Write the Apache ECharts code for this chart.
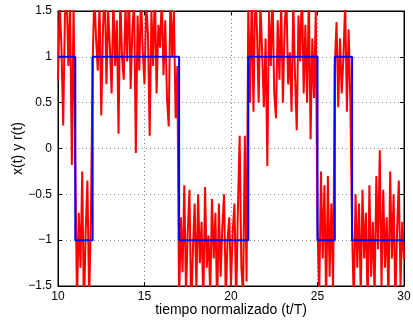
<!DOCTYPE html>
<html>
<head>
<meta charset="utf-8">
<script src="https://cdn.jsdelivr.net/npm/echarts@6/dist/echarts.min.js"></script>
<style>
html, body { margin: 0; padding: 0; background: #fff; }
#chart { width: 413px; height: 320px; }
</style>
</head>
<body>
<div id="chart"></div>
<script>
// bit value in each unit of normalized time, 10..30
var bitStart = 10;
var bits = [1, -1, 1, 1, 1, 1, 1, -1, -1, -1, -1, 1, 1, 1, 1, -1, 1, -1, -1, -1];

// received signal r(t), 10 samples per T
var sampleStep = 0.1;
var received = [
    0.74, 1.6, 1.1, 0.25, 1.45, 1.7, 0.9, 1.55, -0.18, 1.6,
    -0.2, -1.7, -0.7, -1.3, -0.25, -1.8, -0.9, -0.35, -1.65, -0.8,
    0.9, 1.7, 1.2, 0.85, 1.6, 0.36, 1.3, 1.8, 0.7, 1.5,
    1.1, 0.6, 1.65, 0.9, 1.4, 0.16, 1.7, 1.0, 0.75, 1.55,
    0.95, 1.8, 0.65, 1.3, 1.6, -0.05, 1.45, 0.85, 1.7, 1.05,
    0.7, 1.6, 1.25, 0.14, 1.5, 0.9, 1.75, 0.6, 1.35, 1.1,
    1.65, 0.8, 1.4, 0.55, 0.24, 1.7, 1.0, 1.5, 0.33, 0.9,
    -1.7, -0.75, -1.35, -0.4, -1.6, -0.9, -0.45, -1.8, -1.1, -0.6,
    -1.55, -0.5, -1.25, -0.8, -1.7, -0.42, -1.3, -0.95, -1.6, -0.55,
    -1.2, -0.7, -1.75, -0.6, -1.4, -0.85, -0.5, -1.65, -1.0, -0.75,
    -1.5, -0.9, -0.6, -1.7, -0.65, 0.14, -1.3, -1.6, 0.14, -1.45,
    1.6, 0.5, 1.7, 0.4, 1.8, 1.3, 0.5, 1.6, 1.05, 0.45,
    1.2, -0.19, 1.5, 0.9, 1.7, 0.6, 0.33, 1.4, 0.75, 1.6,
    0.5, 1.3, 1.7, 0.7, 1.05, 0.4, 1.6, 0.8, 0.2, 1.45,
    0.95, 1.8, 0.6, 1.35, 0.5, 1.7, 0.1, 1.2, 0.55, 1.5,
    -0.85, -1.6, -0.25, -1.2, -0.4, -1.7, -0.3, -1.4, -0.6, -1.55,
    0.9, 1.38, 0.45, 1.2, 0.6, 1.0, 1.6, 0.4, 1.3, 0.5,
    -0.9, -1.7, -0.5, -1.3, -0.6, -1.6, -0.45, -1.2, -0.7, -1.75,
    -0.4, -1.4, -0.8, -1.6, -0.3, -1.1, -0.02, -1.5, -0.45, -1.3,
    -0.75, -1.65, -0.25, -1.2, -0.5, -1.7, -0.9, -0.35, -1.5, -0.8,
    -1.2
];

var xTicks = [10, 15, 20, 25, 30];
var yTicks = [-1.5, -1, -0.5, 0, 0.5, 1, 1.5];

var redData = received.map(function (v, i) {
    return [+(bitStart + i * sampleStep).toFixed(2), v];
});
var blueData = bits.map(function (b, i) {
    return [bitStart + i, b];
});
blueData.push([bitStart + bits.length, bits[bits.length - 1]]);

var font = '"Liberation Sans", Arial, Helvetica, sans-serif';
var minus = function (v) {
    return String(v).replace('-', '\u2212');
};

var chart = echarts.init(document.getElementById('chart'));
var option = {
    backgroundColor: '#ffffff',
    animation: false,
    grid: {
        left: 58,
        right: 9,
        top: 11,
        bottom: 34,
        outerBoundsMode: 'none',
        containLabel: false,
        show: true,
        borderColor: '#000',
        borderWidth: 1
    },
    xAxis: [{
        type: 'value',
        min: xTicks[0],
        max: xTicks[xTicks.length - 1],
        interval: 5,
        name: 'tiempo normalizado (t/T)',
        nameLocation: 'middle',
        nameGap: 17,
        nameMoveOverlap: false,
        nameTextStyle: {fontFamily: font, fontSize: 14, color: '#000'},
        axisLine: {onZero: false, lineStyle: {color: '#000'}},
        axisTick: {inside: true, length: 4, lineStyle: {color: '#000'}},
        axisLabel: {fontFamily: font, fontSize: 12, color: '#000', margin: 5},
        splitLine: {show: true, lineStyle: {color: '#888', type: [1, 3]}}
    }, {
        type: 'value',
        position: 'top',
        min: xTicks[0],
        max: xTicks[xTicks.length - 1],
        interval: 5,
        axisLine: {onZero: false, lineStyle: {color: '#000'}},
        axisTick: {inside: true, length: 4, lineStyle: {color: '#000'}},
        axisLabel: {show: false},
        splitLine: {show: false}
    }],
    yAxis: [{
        type: 'value',
        min: yTicks[0],
        max: yTicks[yTicks.length - 1],
        interval: 0.5,
        name: 'x(t) y r(t)',
        nameLocation: 'middle',
        nameGap: 33,
        nameMoveOverlap: false,
        nameTextStyle: {fontFamily: font, fontSize: 14, color: '#000'},
        axisLine: {show: true, onZero: false, lineStyle: {color: '#000'}},
        axisTick: {show: true, inside: true, length: 4, lineStyle: {color: '#000'}},
        axisLabel: {fontFamily: font, fontSize: 12, color: '#000', margin: 6, formatter: minus},
        splitLine: {show: true, lineStyle: {color: '#888', type: [1, 3]}}
    }, {
        type: 'value',
        position: 'right',
        min: yTicks[0],
        max: yTicks[yTicks.length - 1],
        interval: 0.5,
        axisLine: {show: true, onZero: false, lineStyle: {color: '#000'}},
        axisTick: {show: true, inside: true, length: 4, lineStyle: {color: '#000'}},
        axisLabel: {show: false},
        splitLine: {show: false}
    }],
    series: [{
        name: 'r(t)',
        type: 'line',
        data: redData,
        showSymbol: false,
        clip: true,
        lineStyle: {color: '#ff0000', width: 2},
        z: 2
    }, {
        name: 'x(t)',
        type: 'line',
        data: blueData,
        step: 'end',
        showSymbol: false,
        clip: true,
        lineStyle: {color: '#0000ff', width: 2},
        z: 3
    }]
};
chart.setOption(option);
</script>
</body>
</html>
